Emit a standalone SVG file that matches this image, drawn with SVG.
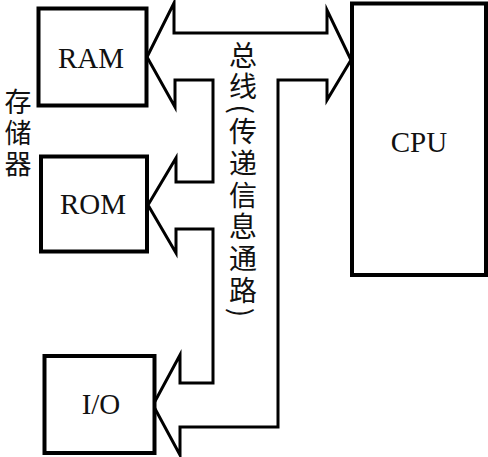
<svg xmlns="http://www.w3.org/2000/svg" width="488" height="457" viewBox="0 0 488 457">
<style>
.box{fill:#fff;stroke:#000;stroke-width:4;stroke-linejoin:miter}
.lbl{font-family:"Liberation Serif","Times New Roman",serif;font-size:29px;fill:#111;text-anchor:middle}
.vt{font-family:"Noto Sans CJK SC","Noto Sans CJK JP",sans-serif;fill:#111;writing-mode:vertical-rl}
.bus{fill:none;stroke:#000;stroke-width:3;stroke-linejoin:miter;stroke-miterlimit:10}
</style>
<rect width="488" height="457" fill="#fff"/>
<g id="connectors">
<path class="bus" d="M147,57 L174,3 L174,33 L327,33 L327,10 L351,60 L327,100 L327,80 L278,80 L278,427 L180,427 L180,455 L153,405 L180,355 L180,383 L213,383 L213,229 L176,229 L176,253 L148,205 L176,158 L176,182 L213,182 L213,80 L175,80 L175,107 Z"/>
</g>
<g id="ram">
<rect class="box" x="38.5" y="8.5" width="108" height="97"/>
<text class="lbl" x="91" y="68">RAM</text>
</g>
<g id="rom">
<rect class="box" x="41" y="156.5" width="106" height="95"/>
<text class="lbl" x="93" y="214">ROM</text>
</g>
<g id="io">
<rect class="box" x="44.5" y="356" width="110" height="97"/>
<text class="lbl" x="101" y="414">I/O</text>
</g>
<g id="cpu">
<rect class="box" x="352" y="3.5" width="134" height="271.5"/>
<text class="lbl" x="419" y="152">CPU</text>
</g>
<g id="memory-label">
<text class="vt" x="18" y="88" style="font-size:27px;letter-spacing:4px">存储器</text>
</g>
<g id="bus-label">
<text class="vt" x="243" y="41" style="font-size:28px;letter-spacing:3.7px">总线(传递信息通路)</text>
</g>
</svg>
